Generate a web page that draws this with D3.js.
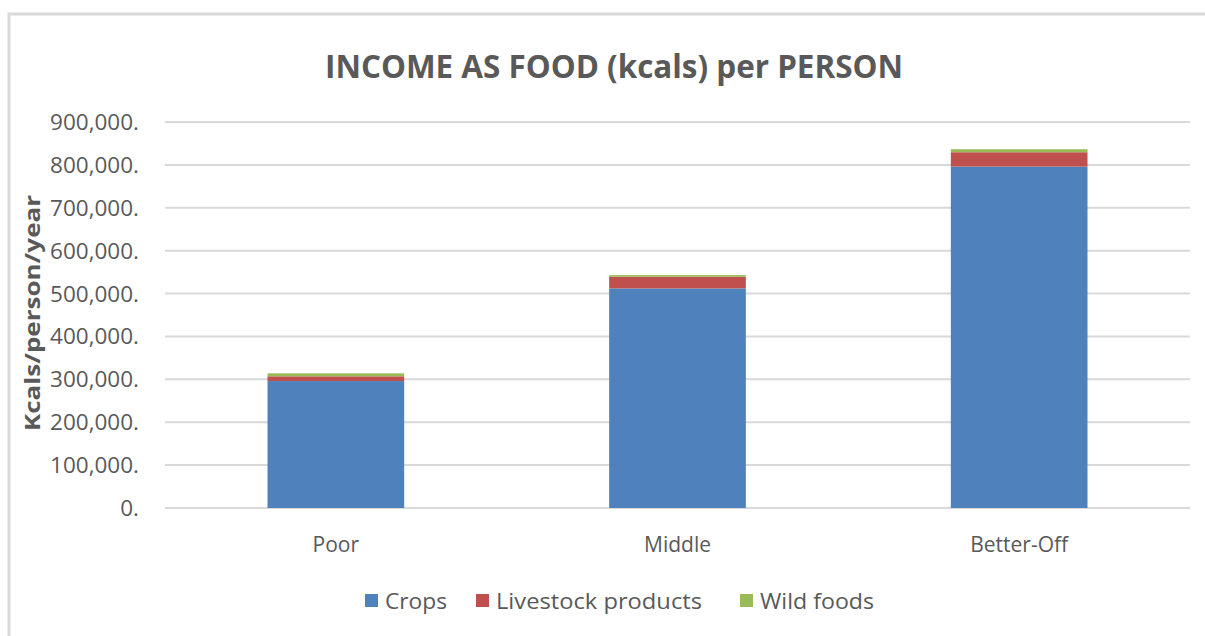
<!DOCTYPE html>
<html>
<head>
<meta charset="utf-8">
<script src="https://cdn.jsdelivr.net/npm/d3@7"></script>
<style>
body { margin: 0; background-color: white; }
text { font-family: "Open Sans", "Noto Sans", sans-serif; }
</style>
</head>
<body>
<svg id="chart"></svg>
</body>
<script>
// data
var categories = ["Poor", "Middle", "Better-Off"];
var seriesNames = ["Crops", "Livestock products", "Wild foods"];
var crops = [296000, 512000, 796000];
var livestock = [11000, 27000, 33500];
var wildFoods = [7000, 4000, 7000];
var yTicks = [0, 100000, 200000, 300000, 400000, 500000, 600000, 700000, 800000, 900000];
var colors = ["#4F81BD", "#C0504D", "#9BBB59"];

const width = 1205, height = 636;
var svg = d3.select("#chart").attr("width", width).attr("height", height);

// chart frame
svg.append("path")
   .attr("d", "M9," + height + " V14 H" + width)
   .attr("fill", "none").attr("stroke", "#d9d9d9").attr("stroke-width", 3);

var rows = categories.map((c, i) => ({cat: c, Crops: crops[i], "Livestock products": livestock[i], "Wild foods": wildFoods[i]}));
var stacked = d3.stack().keys(seriesNames)(rows);

var x = d3.scaleBand().domain(categories).range([165, 1190]).paddingInner(0.6).paddingOuter(0.3);
var y = d3.scaleLinear().domain([0, 900000]).range([508, 122]);

// gridlines
svg.append("g").selectAll("line").data(yTicks).enter().append("line")
   .attr("x1", 165).attr("x2", 1190)
   .attr("y1", d => y(d)).attr("y2", d => y(d))
   .attr("stroke", "#d9d9d9").attr("stroke-width", 2);

// y tick labels
svg.append("g").selectAll("text").data(yTicks).enter().append("text")
   .attr("x", 139).attr("y", d => y(d) + 8)
   .attr("text-anchor", "end").attr("fill", "#595959").style("font-size", "22.5px")
   .text(d => d3.format(",")(d) + ".");

// bars
svg.append("g").selectAll("g").data(stacked).enter().append("g")
   .attr("fill", (d, i) => colors[i])
   .selectAll("rect").data(d => d).enter().append("rect")
   .attr("x", d => x(d.data.cat))
   .attr("width", x.bandwidth())
   .attr("y", d => y(d[1]))
   .attr("height", d => y(d[0]) - y(d[1]));

// category labels
svg.append("g").selectAll("text").data(categories).enter().append("text")
   .attr("x", d => x(d) + x.bandwidth() / 2).attr("y", 552)
   .attr("text-anchor", "middle").attr("fill", "#595959").style("font-size", "21px")
   .text(d => d);

// title
svg.append("text")
   .attr("x", 614).attr("y", 78).attr("text-anchor", "middle")
   .attr("fill", "#595959").style("font-size", "33px").style("font-weight", "bold")
   .attr("textLength", 578).attr("lengthAdjust", "spacingAndGlyphs")
   .text("INCOME AS FOOD (kcals) per PERSON");

// y axis title
svg.append("text")
   .attr("transform", "translate(40,313) rotate(-90)")
   .attr("text-anchor", "middle").attr("fill", "#595959")
   .style("font-size", "21px").style("font-weight", "bold")
   .attr("textLength", 236).attr("lengthAdjust", "spacingAndGlyphs")
   .text("Kcals/person/year");

// legend
var legendX = [365, 476, 740];
var legendW = [62, 206, 114];
var lg = svg.append("g").selectAll("g").data(seriesNames).enter().append("g")
   .attr("transform", (d, i) => "translate(" + legendX[i] + ",594)");
lg.append("rect").attr("width", 13).attr("height", 13).attr("fill", (d, i) => colors[i]);
lg.append("text").attr("x", 20).attr("y", 15)
  .attr("fill", "#595959").style("font-size", "22px")
  .attr("textLength", (d, i) => legendW[i]).attr("lengthAdjust", "spacingAndGlyphs")
  .text(d => d);
</script>
</html>
